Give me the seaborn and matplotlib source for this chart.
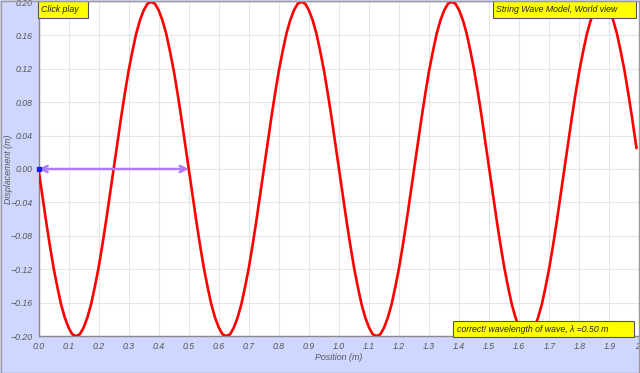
import matplotlib
matplotlib.use("Agg")
import matplotlib.pyplot as plt
import seaborn as sns
import pandas as pd
from matplotlib.patches import Rectangle

position = [
    0.0000, 0.0125, 0.0250, 0.0375, 0.0500, 0.0625, 0.0750, 0.0875, 0.1000, 0.1125,
    0.1250, 0.1375, 0.1500, 0.1625, 0.1750, 0.1875, 0.2000, 0.2125, 0.2250, 0.2375,
    0.2500, 0.2625, 0.2750, 0.2875, 0.3000, 0.3125, 0.3250, 0.3375, 0.3500, 0.3625,
    0.3750, 0.3875, 0.4000, 0.4125, 0.4250, 0.4375, 0.4500, 0.4625, 0.4750, 0.4875,
    0.5000, 0.5125, 0.5250, 0.5375, 0.5500, 0.5625, 0.5750, 0.5875, 0.6000, 0.6125,
    0.6250, 0.6375, 0.6500, 0.6625, 0.6750, 0.6875, 0.7000, 0.7125, 0.7250, 0.7375,
    0.7500, 0.7625, 0.7750, 0.7875, 0.8000, 0.8125, 0.8250, 0.8375, 0.8500, 0.8625,
    0.8750, 0.8875, 0.9000, 0.9125, 0.9250, 0.9375, 0.9500, 0.9625, 0.9750, 0.9875,
    1.0000, 1.0125, 1.0250, 1.0375, 1.0500, 1.0625, 1.0750, 1.0875, 1.1000, 1.1125,
    1.1250, 1.1375, 1.1500, 1.1625, 1.1750, 1.1875, 1.2000, 1.2125, 1.2250, 1.2375,
    1.2500, 1.2625, 1.2750, 1.2875, 1.3000, 1.3125, 1.3250, 1.3375, 1.3500, 1.3625,
    1.3750, 1.3875, 1.4000, 1.4125, 1.4250, 1.4375, 1.4500, 1.4625, 1.4750, 1.4875,
    1.5000, 1.5125, 1.5250, 1.5375, 1.5500, 1.5625, 1.5750, 1.5875, 1.6000, 1.6125,
    1.6250, 1.6375, 1.6500, 1.6625, 1.6750, 1.6875, 1.7000, 1.7125, 1.7250, 1.7375,
    1.7500, 1.7625, 1.7750, 1.7875, 1.8000, 1.8125, 1.8250, 1.8375, 1.8500, 1.8625,
    1.8750, 1.8875, 1.9000, 1.9125, 1.9250, 1.9375, 1.9500, 1.9625, 1.9750, 1.9900]
displacement = [
    0.000, -0.031, -0.062, -0.091, -0.118, -0.141, -0.162, -0.178, -0.190, -0.198,
    -0.200, -0.198, -0.190, -0.178, -0.162, -0.141, -0.118, -0.091, -0.062, -0.031,
    0.000, 0.031, 0.062, 0.091, 0.118, 0.141, 0.162, 0.178, 0.190, 0.198,
    0.200, 0.198, 0.190, 0.178, 0.162, 0.141, 0.118, 0.091, 0.062, 0.031,
    0.000, -0.031, -0.062, -0.091, -0.118, -0.141, -0.162, -0.178, -0.190, -0.198,
    -0.200, -0.198, -0.190, -0.178, -0.162, -0.141, -0.118, -0.091, -0.062, -0.031,
    0.000, 0.031, 0.062, 0.091, 0.118, 0.141, 0.162, 0.178, 0.190, 0.198,
    0.200, 0.198, 0.190, 0.178, 0.162, 0.141, 0.118, 0.091, 0.062, 0.031,
    0.000, -0.031, -0.062, -0.091, -0.118, -0.141, -0.162, -0.178, -0.190, -0.198,
    -0.200, -0.198, -0.190, -0.178, -0.162, -0.141, -0.118, -0.091, -0.062, -0.031,
    0.000, 0.031, 0.062, 0.091, 0.118, 0.141, 0.162, 0.178, 0.190, 0.198,
    0.200, 0.198, 0.190, 0.178, 0.162, 0.141, 0.118, 0.091, 0.062, 0.031,
    0.000, -0.031, -0.062, -0.091, -0.118, -0.141, -0.162, -0.178, -0.190, -0.198,
    -0.200, -0.198, -0.190, -0.178, -0.162, -0.141, -0.118, -0.091, -0.062, -0.031,
    0.000, 0.031, 0.062, 0.091, 0.118, 0.141, 0.162, 0.178, 0.190, 0.198,
    0.200, 0.198, 0.190, 0.178, 0.162, 0.141, 0.118, 0.091, 0.062, 0.025]
x_ticks = [0.0, 0.1, 0.2, 0.3, 0.4, 0.5, 0.6, 0.7, 0.8, 0.9, 1.0,
           1.1, 1.2, 1.3, 1.4, 1.5, 1.6, 1.7, 1.8, 1.9, 2.0]
x_tick_labels = ["0.0", "0.1", "0.2", "0.3", "0.4", "0.5", "0.6", "0.7", "0.8", "0.9", "1.0",
                 "1.1", "1.2", "1.3", "1.4", "1.5", "1.6", "1.7", "1.8", "1.9", "2"]
y_ticks = [-0.20, -0.16, -0.12, -0.08, -0.04, 0.00, 0.04, 0.08, 0.12, 0.16, 0.20]
y_tick_labels = ["\u22120.20", "\u22120.16", "\u22120.12", "\u22120.08", "\u22120.04", "0.00",
                 "0.04", "0.08", "0.12", "0.16", "0.20"]
wavelength = [0.0, 0.5]
arrow_y = 0.0

sns.set_style("white")
plt.rcParams["font.family"] = ["Liberation Sans", "DejaVu Sans"]

W, H = 640, 373
fig = plt.figure(figsize=(6.4, 3.73), dpi=100)
fig.patch.set_facecolor("#D0D7FF")
ax = fig.add_axes([38.5 / W, 1 - 336 / H, (639.5 - 38.5) / W, (336 - 2) / H])
ax.set_facecolor("white")

df = pd.DataFrame({"Position": position, "Displacement": displacement})
sns.lineplot(data=df, x="Position", y="Displacement", ax=ax, color="#FF0000",
             linewidth=1.9, sort=False, zorder=3)

ax.set_xlim(0, 2.0)
ax.set_ylim(-0.20, 0.20)
ax.set_xticks(x_ticks)
ax.set_xticklabels(x_tick_labels)
ax.set_yticks(y_ticks)
ax.set_yticklabels(y_tick_labels)
ax.grid(True, color="#E6E6E6", linewidth=0.8)
ax.set_axisbelow(True)
for s in ["top", "right"]:
    ax.spines[s].set_visible(False)
for s in ["left", "bottom"]:
    ax.spines[s].set_color("#8A8A8A")
    ax.spines[s].set_linewidth(1.0)
ax.tick_params(axis="both", direction="out", length=3, width=0.8, color="#666666",
               labelsize=6.3, labelcolor="#555555", pad=1.5)
for lab in ax.get_xticklabels() + ax.get_yticklabels():
    lab.set_fontstyle("italic")
ax.get_xticklabels()[-1].set_horizontalalignment("right")
ax.set_xlabel("Position (m)", fontsize=6.4, fontstyle="italic", color="#555555")
ax.set_ylabel("Displacement (m)", fontsize=6.4, fontstyle="italic", color="#555555")
ax.xaxis.set_label_coords(0.5, -(358 - 336) / 334, transform=ax.transAxes)
ax.yaxis.set_label_coords(-(38.5 - 9) / 601, 0.5, transform=ax.transAxes)
ax.xaxis.label.set_verticalalignment("center")
ax.yaxis.label.set_verticalalignment("center")

# wavelength arrow (open chevron heads)
ax.annotate("", xy=(wavelength[1], arrow_y), xytext=(wavelength[0], arrow_y),
            arrowprops=dict(arrowstyle="<->,head_length=0.45,head_width=0.22",
                            color="#B07AFF", lw=1.8, shrinkA=0, shrinkB=0), zorder=4)
ax.plot([0.0], [arrow_y], marker="s", markersize=3.5, color="#1A1AE6", zorder=5, clip_on=False)

# yellow labels
def box(x0, y0, x1, y1, text, tx):
    fig.patches.append(Rectangle((x0 / W, 1 - y1 / H), (x1 - x0) / W, (y1 - y0) / H,
                                 transform=fig.transFigure, facecolor="#FFFF00",
                                 edgecolor="#555555", linewidth=0.8, zorder=10))
    fig.text(tx / W, 1 - (y0 + y1) / 2 / H, text, fontsize=6.3, fontstyle="italic",
             color="#222222", va="center", ha="left", zorder=11)

box(38, 1, 88, 18, "Click play", 41)
box(493, 1, 636, 18, "String Wave Model, World view", 496)
box(453, 321, 634, 337, "correct! wavelength of wave, \u03bb =0.50 m", 457)

# outer frame
fig.patches.append(Rectangle((0.5 / W, 0.5 / H), (W - 1.5) / W, (H - 1.5) / H,
                             transform=fig.transFigure, facecolor="none",
                             edgecolor="#9A9A9A", linewidth=1.0, zorder=20))

fig.savefig("out.png", dpi=100, facecolor=fig.get_facecolor())
